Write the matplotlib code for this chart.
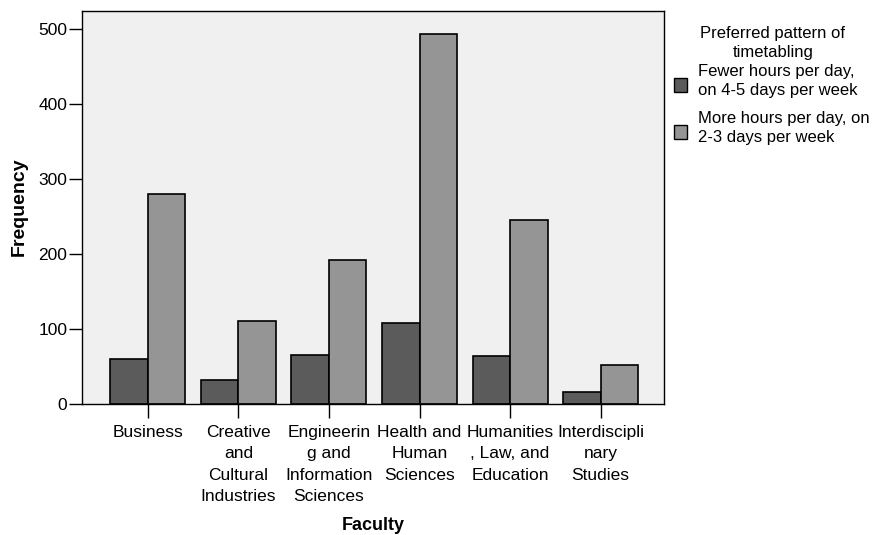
import matplotlib
matplotlib.use('Agg')
import matplotlib.pyplot as plt
import numpy as np
from matplotlib.patches import Rectangle

plt.rcParams['font.family'] = ['Liberation Sans', 'DejaVu Sans']

faculties = ['Business', 'Creative\nand\nCultural\nIndustries', 'Engineerin\ng and\nInformation\nSciences',
             'Health and\nHuman\nSciences', 'Humanities\n, Law, and\nEducation', 'Interdiscipli\nnary\nStudies']
fewer = [61, 32, 66, 108, 64, 17]
more = [280, 111, 192, 494, 245, 52]
series_names = ['Fewer hours per day,\non 4-5 days per week', 'More hours per day, on\n2-3 days per week']
dark = '#5b5b5b'
light = '#959595'

fig = plt.figure(figsize=(8.75, 5.35), dpi=100)
ax = fig.add_axes([0.0934, 0.2443, 0.6655, 0.7351])
ax.set_facecolor('#f0f0f0')

x = np.arange(len(faculties))
w = 0.414
ax.bar(x - w/2, fewer, w, color=dark, edgecolor='black', linewidth=1.2)
ax.bar(x + w/2, more, w, color=light, edgecolor='black', linewidth=1.2)

ax.set_xlim(-0.73, 5.70)
ax.set_ylim(0, 524)
ax.set_yticks([0, 100, 200, 300, 400, 500])
ax.set_xticks(x)
ax.set_xticklabels(faculties, fontsize=12.5, linespacing=1.52)
ax.tick_params(axis='y', labelsize=12.5, length=9.5, width=1, pad=1)
ax.tick_params(axis='x', length=10, width=1, pad=5)
for s in ax.spines.values():
    s.set_linewidth(1)

fig.text(19/875, 1-207/535, 'Frequency', rotation=90, fontsize=14, fontweight='bold',
         ha='center', va='center')
fig.text(373/875, 1-525/535, 'Faculty', fontsize=13, fontweight='bold', ha='center', va='center')

# legend
fig.text(773/875, 1-43/535, 'Preferred pattern of\ntimetabling', fontsize=12, ha='center',
         va='center', linespacing=1.3)
for i, (name, col) in enumerate(zip(series_names, [dark, light])):
    cy = 81 + i*47
    fig.text(698/875, 1-cy/535, name, fontsize=12, ha='left', va='center', linespacing=1.3)
    fig.add_artist(Rectangle((674/875, 1-(cy+11)/535), 13/875, 14/535, transform=fig.transFigure,
                             facecolor=col, edgecolor='black', linewidth=1))

fig.savefig('out.png', dpi=100)
